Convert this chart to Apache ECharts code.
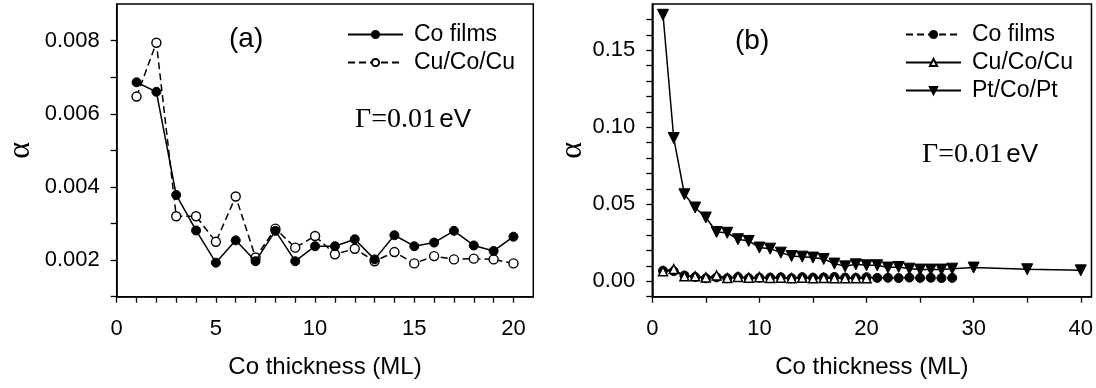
<!DOCTYPE html>
<html>
<head>
<meta charset="utf-8">
<script src="https://cdn.jsdelivr.net/npm/echarts@6/dist/echarts.min.js"></script>
<style>
html,body{margin:0;padding:0;background:#fff;}
#chart{width:1096px;height:388px;}
</style>
</head>
<body>
<div id="chart"></div>
<script>
// ---------- Data ----------
var xA = [1,2,3,4,5,6,7,8,9,10,11,12,13,14,15,16,17,18,19,20];
var coFilmsA = [0.00686,0.0066,0.00378,0.00281,0.00193,0.00254,0.00197,0.0028,0.00197,0.00238,0.00238,0.00257,0.00202,0.00268,0.00238,0.00248,0.0028,0.0024,0.00225,0.00264];
var cuCoCuA = [0.00647,0.00794,0.0032,0.0032,0.0025,0.00374,0.00207,0.00286,0.00234,0.00266,0.00216,0.00231,0.00197,0.00222,0.00191,0.00211,0.00202,0.00204,0.00202,0.00191];

var xCoFilmsB = [1,2,3,4,5,6,7,8,9,10,11,12,13,14,15,16,17,18,19,20,21,22,23,24,25,26,27,28];
var coFilmsB = [0.00686,0.0066,0.00378,0.00281,0.00193,0.00254,0.00197,0.0028,0.00197,0.00238,0.00238,0.00257,0.00202,0.00268,0.00238,0.00248,0.0028,0.0024,0.00225,0.00264,0.0022,0.0023,0.0021,0.0024,0.0022,0.0023,0.0021,0.0022];
var xCuCoCuB = [1,2,3,4,5,6,7,8,9,10,11,12,13,14,15,16,17,18,19,20];
var cuCoCuB = [0.00647,0.00794,0.0032,0.0032,0.0025,0.00374,0.00207,0.00286,0.00234,0.00266,0.00216,0.00231,0.00197,0.00222,0.00191,0.00211,0.00202,0.00204,0.00202,0.00191];
var xPtB = [1,2,3,4,5,6,7,8,9,10,11,12,13,14,15,16,17,18,19,20,21,22,23,24,25,26,27,28,30,35,40];
var ptCoPtB = [0.173,0.093,0.0565,0.0479,0.0414,0.032,0.0315,0.0273,0.0262,0.0219,0.0212,0.0186,0.0164,0.016,0.0154,0.0145,0.0115,0.0097,0.011,0.0104,0.0104,0.0089,0.0093,0.0082,0.0076,0.0076,0.0076,0.0082,0.0089,0.0078,0.0071];

// ---------- Ticks ----------
var xTicksA = [0,1,2,3,4,5,6,7,8,9,10,11,12,13,14,15,16,17,18,19,20];
var xLabelsA = [0,5,10,15,20];
var yTicksA = [0.001,0.002,0.003,0.004,0.005,0.006,0.007,0.008];
var yLabelsA = [0.002,0.004,0.006,0.008];
var xTicksB = [0,5,10,15,20,25,30,35,40];
var xLabelsB = [0,10,20,30,40];
var yTicksB = [-0.01,0,0.01,0.02,0.03,0.04,0.05,0.06,0.07,0.08,0.09,0.10,0.11,0.12,0.13,0.14,0.15,0.16,0.17];
var yLabelsB = [0,0.05,0.10,0.15];

function pairs(xs, ys){ return xs.map(function(x,i){ return [x, ys[i]]; }); }

var SANS = 'Liberation Sans, Arial, sans-serif';
var SERIF = 'Liberation Serif, Times New Roman, serif';
var BLACK = '#000';

function xAxisCfg(idx, max, ticks, labels){
  return {
    type:'value', gridIndex:idx, min:0, max:max,
    name:'Co thickness (ML)', nameLocation:'middle', nameGap:59,
    nameTextStyle:{fontFamily:SANS, fontSize:24, color:BLACK},
    axisLine:{show:true, onZero:false, lineStyle:{color:BLACK, width:1.5}},
    axisTick:{show:true, inside:false, length:6, customValues:ticks, lineStyle:{color:BLACK, width:1.3}},
    axisLabel:{show:true, customValues:labels, margin:21, fontFamily:SANS, fontSize:22, color:BLACK,
      formatter:function(v){ return String(Math.round(v)); }},
    splitLine:{show:false}
  };
}
function yAxisCfg(idx, min, max, ticks, labels, digits, gap){
  return {
    type:'value', gridIndex:idx, min:min, max:max,
    name:'α', nameLocation:'middle', nameGap:gap,
    nameTextStyle:{fontFamily:SERIF, fontSize:32, color:BLACK},
    axisLine:{show:true, onZero:false, lineStyle:{color:BLACK, width:1.5}},
    axisTick:{show:true, inside:false, length:6, customValues:ticks, lineStyle:{color:BLACK, width:1.3}},
    axisLabel:{show:true, customValues:labels, margin:17, fontFamily:SANS, fontSize:22, color:BLACK,
      formatter:function(v){ return v.toFixed(digits); }},
    splitLine:{show:false}
  };
}

var chart = echarts.init(document.getElementById('chart'), null, {renderer:'canvas'});
var option = {
  animation:false,
  backgroundColor:'#fff',
  grid:[
    {left:116.7, top:4, width:416.6, height:292.7, show:true, borderColor:BLACK, borderWidth:1.5, backgroundColor:'transparent'},
    {left:652.3, top:4, width:439.4, height:292.7, show:true, borderColor:BLACK, borderWidth:1.5, backgroundColor:'transparent'}
  ],
  xAxis:[ xAxisCfg(0, 21, xTicksA, xLabelsA), xAxisCfg(1, 41, xTicksB, xLabelsB) ],
  yAxis:[ yAxisCfg(0, 0.001, 0.009, yTicksA, yLabelsA, 3, 80), yAxisCfg(1, -0.01, 0.18, yTicksB, yLabelsB, 2, 63) ],
  legend:[
    {
      left:342, top:18, orient:'vertical', itemWidth:55, itemHeight:9, itemGap:5,
      textStyle:{fontFamily:SANS, fontSize:23, color:BLACK, padding:[0,0,0,6]},
      data:[{name:'Co films'},{name:'Cu/Co/Cu'}]
    },
    {
      left:900, top:18, orient:'vertical', itemWidth:55, itemHeight:9, itemGap:5,
      textStyle:{fontFamily:SANS, fontSize:23, color:BLACK, padding:[0,0,0,6]},
      data:[{name:'Co films '},{name:'Cu/Co/Cu '},{name:'Pt/Co/Pt'}],
      formatter:function(n){ return n.trim(); }
    }
  ],
  graphic:[
    {type:'text', left:229, top:25, style:{text:'(a)', fontFamily:SANS, fontSize:28, fill:BLACK}},
    {type:'text', left:735, top:27, style:{text:'(b)', fontFamily:SANS, fontSize:28, fill:BLACK}},
    {type:'text', left:355, top:106, style:{text:'{g|Γ=0.01} {e|eV}', rich:{g:{fontFamily:SERIF, fontSize:28, color:BLACK}, e:{fontFamily:SANS, fontSize:26, color:BLACK}}}},
    {type:'text', left:922, top:141, style:{text:'{g|Γ=0.01} {e|eV}', rich:{g:{fontFamily:SERIF, fontSize:28, color:BLACK}, e:{fontFamily:SANS, fontSize:26, color:BLACK}}}}
  ],
  series:[
    {name:'Co films', type:'line', xAxisIndex:0, yAxisIndex:0, data:pairs(xA, coFilmsA),
      symbol:'circle', symbolSize:9, lineStyle:{color:BLACK, width:1.5, type:'solid'},
      itemStyle:{color:BLACK, borderColor:BLACK, borderWidth:1}, z:3},
    {name:'Cu/Co/Cu', type:'line', xAxisIndex:0, yAxisIndex:0, data:pairs(xA, cuCoCuA),
      symbol:'circle', symbolSize:9, lineStyle:{color:BLACK, width:1.5, type:[7,4]},
      itemStyle:{color:'#fff', borderColor:BLACK, borderWidth:1.4}, z:2},
    {name:'Co films ', type:'line', xAxisIndex:1, yAxisIndex:1, data:pairs(xCoFilmsB, coFilmsB),
      symbol:'circle', symbolSize:9, lineStyle:{color:BLACK, width:1.5, type:[7,4]},
      itemStyle:{color:BLACK, borderColor:BLACK, borderWidth:1}, z:2},
    {name:'Cu/Co/Cu ', type:'line', xAxisIndex:1, yAxisIndex:1, data:pairs(xCuCoCuB, cuCoCuB),
      symbol:'triangle', symbolSize:9, lineStyle:{color:BLACK, width:1.5, type:'solid'},
      itemStyle:{color:'#fff', borderColor:BLACK, borderWidth:1.5}, z:3},
    {name:'Pt/Co/Pt', type:'line', xAxisIndex:1, yAxisIndex:1, data:pairs(xPtB, ptCoPtB),
      symbol:'triangle', symbolRotate:180, symbolSize:11, lineStyle:{color:BLACK, width:1.5, type:'solid'},
      itemStyle:{color:BLACK, borderColor:BLACK, borderWidth:1}, z:4}
  ]
};
chart.setOption(option);
</script>
</body>
</html>
